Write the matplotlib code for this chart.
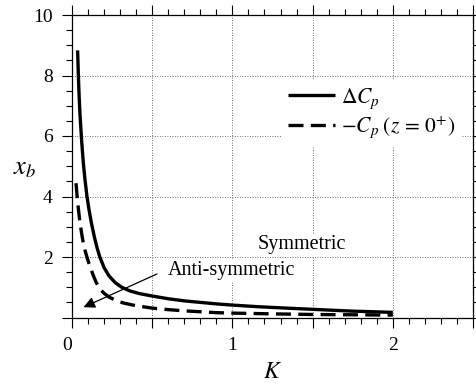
import matplotlib
matplotlib.use("Agg")
import matplotlib.pyplot as plt
from matplotlib.ticker import MultipleLocator, FuncFormatter

plt.rcParams['font.family'] = ['Liberation Serif', 'DejaVu Serif']
plt.rcParams['mathtext.fontset'] = 'stix'

# Data
K_dcp = [0.035, 0.04, 0.045, 0.05, 0.06, 0.07, 0.08, 0.093, 0.105, 0.12, 0.14,
         0.155, 0.172, 0.2, 0.23, 0.27, 0.31, 0.36, 0.42, 0.5, 0.6, 0.7, 0.8,
         0.9, 1.0, 1.15, 1.3, 1.5, 1.75, 2.0]
xb_dcp = [8.83, 7.95, 7.25, 6.7, 5.85, 5.15, 4.6, 4.02, 3.6, 3.15, 2.65,
          2.33, 2.02, 1.65, 1.38, 1.15, 1.0, 0.88, 0.79, 0.71, 0.62, 0.55, 0.5,
          0.45, 0.41, 0.36, 0.32, 0.27, 0.21, 0.17]

K_cp = [0.025, 0.03, 0.035, 0.04, 0.045, 0.05, 0.06, 0.07, 0.08, 0.093, 0.105,
        0.12, 0.135, 0.15, 0.165, 0.18, 0.2, 0.23, 0.27, 0.32, 0.38, 0.45, 0.5,
        0.6, 0.7, 0.8, 0.9, 1.0, 1.25, 1.5, 1.75, 2.0]
xb_cp = [4.44, 4.12, 3.84, 3.58, 3.35, 3.14, 2.78, 2.48, 2.24, 2.0, 1.8,
         1.57, 1.36, 1.17, 1.02, 0.91, 0.8, 0.68, 0.57, 0.48, 0.41, 0.35, 0.31,
         0.26, 0.22, 0.19, 0.16, 0.145, 0.12, 0.1, 0.09, 0.08]

x_labels = {0: '0', 1: '1', 2: '2'}
label_dcp = r'$\Delta C_p$'
label_cp = r'$-C_p\;(z\,=\,0^{+})$'

fig = plt.figure(figsize=(4.77, 3.87), dpi=100)
W, H = 477, 387
ax = fig.add_axes([72/W, 1-317.5/H, (473-72)/W, (317.5-15)/H])

ax.plot(K_dcp, xb_dcp, color='black', lw=2.4, solid_capstyle='butt',
        solid_joinstyle='round', label=label_dcp, zorder=3)
ax.plot(K_cp, xb_cp, color='black', lw=2.4, dashes=(4.5, 2.2),
        label=label_cp, zorder=3)

ax.set_xlim(0, 2.5)
ax.set_ylim(0, 10)

ax.xaxis.set_major_locator(MultipleLocator(0.5))
ax.xaxis.set_minor_locator(MultipleLocator(0.1))
ax.yaxis.set_major_locator(MultipleLocator(2))
ax.yaxis.set_minor_locator(MultipleLocator(0.5))

def xfmt(v, pos):
    r = round(v)
    if abs(v - r) < 1e-6 and r in x_labels:
        return x_labels[r]
    return ''

def yfmt(v, pos):
    if v < 1e-6:
        return ''
    return '%d' % round(v)

ax.xaxis.set_major_formatter(FuncFormatter(xfmt))
ax.yaxis.set_major_formatter(FuncFormatter(yfmt))

ax.tick_params(which='both', direction='out', top=True, right=True, labelsize=14,
               colors='black', width=0.8)
ax.tick_params(which='major', length=7, pad=7)
ax.tick_params(which='minor', length=4)

fig.canvas.draw()
for lab in ax.get_xticklabels():
    if lab.get_text() == '0':
        lab.set_horizontalalignment('right')

for s in ax.spines.values():
    s.set_linewidth(0.9)

grid_ls = (0, (1, 2))
for gx in [0.5, 1.0, 1.5, 2.0]:
    ax.axvline(gx, color='0.25', lw=0.6, ls=grid_ls, zorder=1)
for gy in [2, 4, 6, 8]:
    ax.axhline(gy, color='0.25', lw=0.6, ls=grid_ls, zorder=1)

ax.set_xlabel('$K$', fontsize=17, labelpad=6)
ax.set_ylabel('$x_b$', fontsize=19, rotation=0)
ax.yaxis.set_label_coords(-0.118, 0.455)

ax.text(1.16, 2.4, 'Symmetric', fontsize=14.5, ha='left', va='center', zorder=2,
        bbox=dict(facecolor='white', edgecolor='none', pad=1))
ax.text(0.595, 1.57, 'Anti-symmetric', fontsize=14.5, ha='left', va='center', zorder=2,
        bbox=dict(facecolor='white', edgecolor='none', pad=1))
ax.annotate('', xy=(0.072, 0.34), xytext=(0.53, 1.44),
            arrowprops=dict(arrowstyle='-|>', color='black', lw=0.9,
                            mutation_scale=17, shrinkA=0, shrinkB=0), zorder=4)

leg = ax.legend(loc='upper left', bbox_to_anchor=(0.522, 0.785), fontsize=15.5,
                frameon=True, facecolor='white', edgecolor='none', framealpha=1,
                fancybox=False, handlelength=2.2, handletextpad=0.25,
                labelspacing=0.15, borderpad=0.3, borderaxespad=0)
leg.set_zorder(5)

fig.savefig('out.png', dpi=100)
